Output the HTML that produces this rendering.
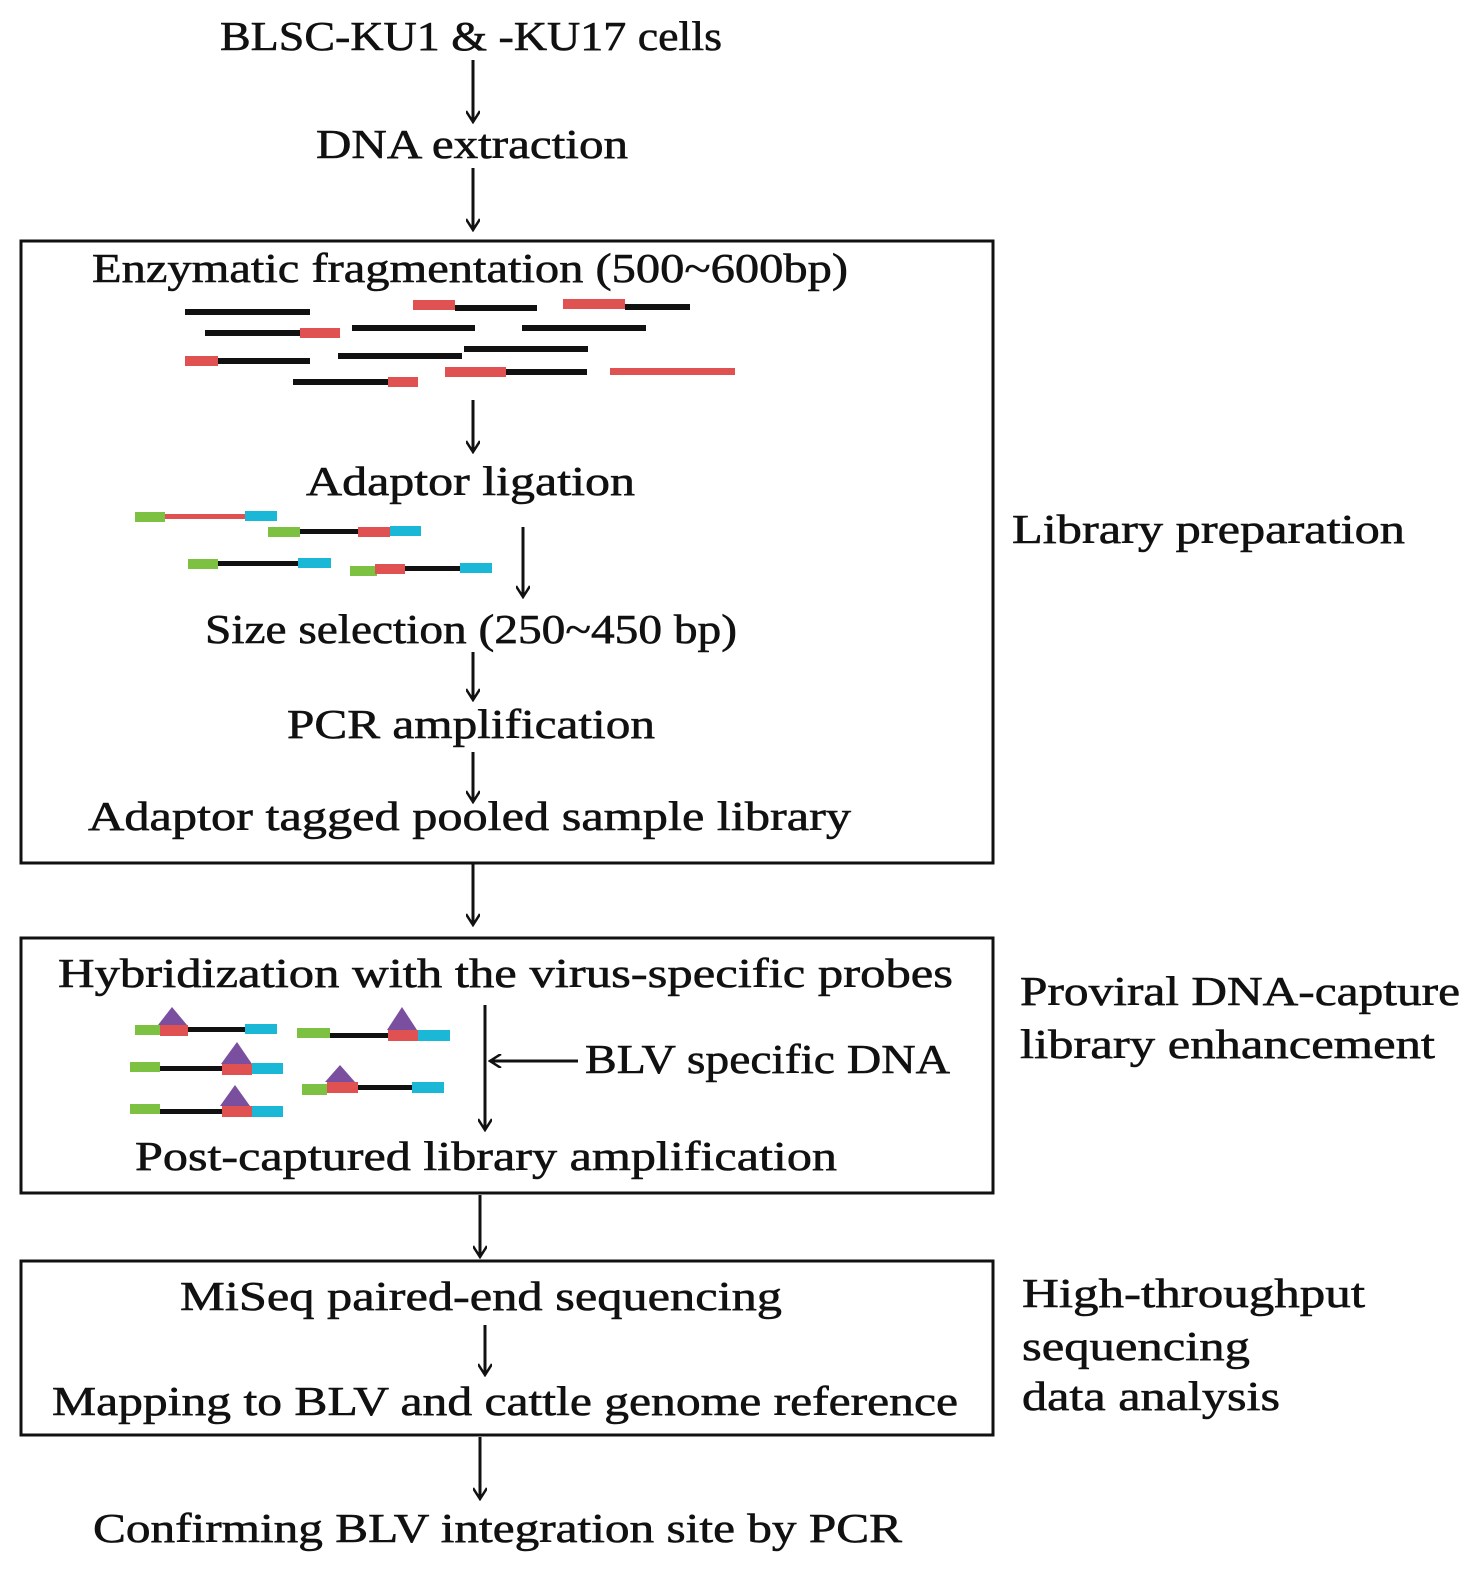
<!DOCTYPE html>
<html><head><meta charset="utf-8"><style>
html,body{margin:0;padding:0;background:#fff;}
svg{display:block;}
text{font-family:"Liberation Serif",serif;font-size:41px;fill:#111;stroke:#111;stroke-width:0.6px;}
</style></head><body>
<svg width="1476" height="1571" viewBox="0 0 1476 1571" xmlns="http://www.w3.org/2000/svg">
<defs>
<marker id="a" markerWidth="14" markerHeight="14" refX="12" refY="7" orient="auto" markerUnits="userSpaceOnUse">
<path d="M1,0 L12,7 L1,14" fill="none" stroke="#111" stroke-width="2.5"/>
</marker>
</defs>
<g stroke="#111" stroke-width="3" fill="none">
<line x1="473" y1="60" x2="473" y2="122" marker-end="url(#a)"/>
<line x1="473" y1="168" x2="473" y2="230" marker-end="url(#a)"/>
<line x1="473" y1="400" x2="473" y2="452" marker-end="url(#a)"/>
<line x1="523" y1="527" x2="523" y2="597" marker-end="url(#a)"/>
<line x1="473" y1="652" x2="473" y2="700" marker-end="url(#a)"/>
<line x1="473" y1="752" x2="473" y2="802" marker-end="url(#a)"/>
<line x1="473" y1="863" x2="473" y2="925" marker-end="url(#a)"/>
<line x1="485" y1="1005" x2="485" y2="1130" marker-end="url(#a)"/>
<line x1="578" y1="1061" x2="490" y2="1061" marker-end="url(#a)"/>
<line x1="480" y1="1195" x2="480" y2="1257" marker-end="url(#a)"/>
<line x1="485" y1="1325" x2="485" y2="1375" marker-end="url(#a)"/>
<line x1="480" y1="1437" x2="480" y2="1499" marker-end="url(#a)"/>
<rect x="21" y="241" width="972" height="622"/>
<rect x="21" y="938" width="972" height="255"/>
<rect x="21" y="1261" width="972" height="174"/>
</g>
<g>
<rect x="185" y="309" width="125" height="6" fill="#111"/>
<rect x="455" y="305" width="82" height="6" fill="#111"/><rect x="413" y="300" width="42" height="10" fill="#e05252"/>
<rect x="625" y="304" width="65" height="6" fill="#111"/><rect x="563" y="299" width="62" height="10" fill="#e05252"/>
<rect x="205" y="330" width="95" height="6" fill="#111"/><rect x="300" y="328" width="40" height="10" fill="#e05252"/>
<rect x="352" y="325" width="123" height="6" fill="#111"/>
<rect x="522" y="325" width="124" height="6" fill="#111"/>
<rect x="218" y="358" width="92" height="6" fill="#111"/><rect x="185" y="356" width="33" height="10" fill="#e05252"/>
<rect x="338" y="353" width="124" height="6" fill="#111"/>
<rect x="464" y="346" width="124" height="6" fill="#111"/>
<rect x="293" y="379" width="95" height="6" fill="#111"/><rect x="388" y="377" width="30" height="10" fill="#e05252"/>
<rect x="506" y="369" width="81" height="6" fill="#111"/><rect x="445" y="367" width="61" height="10" fill="#e05252"/>
<rect x="610" y="368" width="125" height="7" fill="#e05252"/>
</g>
<g>
<rect x="165" y="514" width="80" height="5" fill="#e05252"/><rect x="135" y="512" width="30" height="10" fill="#7cc142"/><rect x="245" y="511" width="32" height="10" fill="#1ab7d6"/>
<rect x="300" y="529" width="58" height="5" fill="#111"/><rect x="268" y="527" width="32" height="10" fill="#7cc142"/><rect x="358" y="527" width="32" height="10" fill="#e05252"/><rect x="390" y="526" width="31" height="10" fill="#1ab7d6"/>
<rect x="218" y="561" width="80" height="5" fill="#111"/><rect x="188" y="559" width="30" height="10" fill="#7cc142"/><rect x="298" y="558" width="33" height="10" fill="#1ab7d6"/>
<rect x="405" y="566" width="55" height="5" fill="#111"/><rect x="350" y="566" width="27" height="10" fill="#7cc142"/><rect x="375" y="564" width="30" height="10" fill="#e05252"/><rect x="460" y="563" width="32" height="10" fill="#1ab7d6"/>
</g>
<g>
<rect x="188" y="1027" width="57" height="5" fill="#111"/><rect x="135" y="1025" width="25" height="10" fill="#7cc142"/><rect x="160" y="1025" width="28" height="11" fill="#e05252"/><rect x="245" y="1024" width="32" height="10" fill="#1ab7d6"/><polygon points="172,1007 158,1025 187,1025" fill="#7a4fa0"/>
<rect x="310" y="1033" width="78" height="5" fill="#111"/><rect x="297" y="1028" width="33" height="10" fill="#7cc142"/><rect x="388" y="1030" width="30" height="11" fill="#e05252"/><rect x="418" y="1030" width="32" height="11" fill="#1ab7d6"/><polygon points="402,1007 387,1030 417,1030" fill="#7a4fa0"/>
<rect x="150" y="1066" width="72" height="5" fill="#111"/><rect x="130" y="1062" width="30" height="10" fill="#7cc142"/><rect x="222" y="1064" width="30" height="11" fill="#e05252"/><rect x="252" y="1063" width="31" height="11" fill="#1ab7d6"/><polygon points="237,1042 221,1064 252,1064" fill="#7a4fa0"/>
<rect x="358" y="1085" width="54" height="5" fill="#111"/><rect x="302" y="1084" width="25" height="11" fill="#7cc142"/><rect x="327" y="1082" width="31" height="11" fill="#e05252"/><rect x="412" y="1082" width="32" height="11" fill="#1ab7d6"/><polygon points="340,1065 325,1082 355,1082" fill="#7a4fa0"/>
<rect x="150" y="1109" width="72" height="5" fill="#111"/><rect x="130" y="1104" width="30" height="10" fill="#7cc142"/><rect x="222" y="1106" width="30" height="11" fill="#e05252"/><rect x="252" y="1106" width="31" height="11" fill="#1ab7d6"/><polygon points="235,1085 220,1106 250,1106" fill="#7a4fa0"/>
</g>
<g>
<text x="220" y="50" textLength="502" lengthAdjust="spacingAndGlyphs">BLSC-KU1 &amp; -KU17 cells</text>
<text x="316" y="158" textLength="312" lengthAdjust="spacingAndGlyphs">DNA extraction</text>
<text x="92" y="282" textLength="756" lengthAdjust="spacingAndGlyphs">Enzymatic fragmentation (500~600bp)</text>
<text x="306" y="495" textLength="329" lengthAdjust="spacingAndGlyphs">Adaptor ligation</text>
<text x="205" y="643" textLength="532" lengthAdjust="spacingAndGlyphs">Size selection (250~450 bp)</text>
<text x="287" y="738" textLength="368" lengthAdjust="spacingAndGlyphs">PCR amplification</text>
<text x="88" y="830" textLength="763" lengthAdjust="spacingAndGlyphs">Adaptor tagged pooled sample library</text>
<text x="58" y="987" textLength="895" lengthAdjust="spacingAndGlyphs">Hybridization with the virus-specific probes</text>
<text x="585" y="1073" textLength="365" lengthAdjust="spacingAndGlyphs">BLV specific DNA</text>
<text x="135" y="1170" textLength="702" lengthAdjust="spacingAndGlyphs">Post-captured library amplification</text>
<text x="180" y="1310" textLength="602" lengthAdjust="spacingAndGlyphs">MiSeq paired-end sequencing</text>
<text x="52" y="1415" textLength="906" lengthAdjust="spacingAndGlyphs">Mapping to BLV and cattle genome reference</text>
<text x="93" y="1542" textLength="809" lengthAdjust="spacingAndGlyphs">Confirming BLV integration site by PCR</text>
<text x="1012" y="543" textLength="393" lengthAdjust="spacingAndGlyphs">Library preparation</text>
<text x="1020" y="1005" textLength="440" lengthAdjust="spacingAndGlyphs">Proviral DNA-capture</text>
<text x="1020" y="1058" textLength="415" lengthAdjust="spacingAndGlyphs">library enhancement</text>
<text x="1022" y="1307" textLength="343" lengthAdjust="spacingAndGlyphs">High-throughput</text>
<text x="1022" y="1360" textLength="228" lengthAdjust="spacingAndGlyphs">sequencing</text>
<text x="1022" y="1410" textLength="258" lengthAdjust="spacingAndGlyphs">data analysis</text>
</g>
</svg>
</body></html>
